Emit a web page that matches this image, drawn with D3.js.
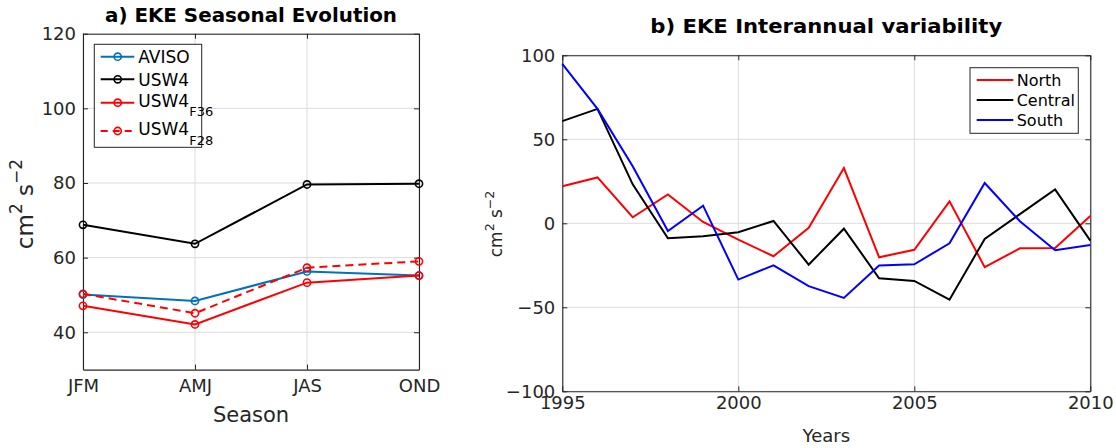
<!DOCTYPE html>
<html>
<head>
<meta charset="utf-8">
<script src="https://cdn.jsdelivr.net/npm/d3@7"></script>
<style>
  body { margin: 0; background: #fff; }
  svg { display: block; font-family: "DejaVu Sans", sans-serif; }
</style>
</head>
<body>
<svg id="chart" width="1116" height="448"></svg>
<script>
// ---------- Data ----------
const seasons = ["JFM", "AMJ", "JAS", "OND"];
const aviso   = [50.1, 48.4, 56.3, 55.2];
const usw4    = [68.8, 63.7, 79.6, 79.8];
const usw4F36 = [47.1, 42.1, 53.3, 55.2];
const usw4F28 = [50.3, 45.1, 57.3, 59.0];
const seasonYTicks = [40, 60, 80, 100, 120];

const years   = [1995, 1996, 1997, 1998, 1999, 2000, 2001, 2002, 2003, 2004, 2005, 2006, 2007, 2008, 2009, 2010];
const north   = [22.0, 27.3, 3.6, 17.2, 0.8, -9.7, -19.6, -2.7, 32.9, -20.2, -15.8, 13.1, -26.1, -14.9, -14.7, 4.4];
const central = [60.8, 68.1, 23.2, -8.9, -7.7, -5.3, 1.4, -24.6, -3.2, -32.7, -34.3, -45.5, -9.3, 5.5, 20.2, -10.3];
const south   = [94.9, 68.1, 33.9, -4.6, 10.5, -33.5, -25.0, -37.4, -44.4, -25.1, -24.4, -11.9, 24.0, 1.2, -16.0, -12.9];
const yearTicks = [1995, 2000, 2005, 2010];
const anomTicks = [-100, -50, 0, 50, 100];

const svg = d3.select("#chart");
const AX = "#262626", GRID = "#dcdcdc", FONT = "DejaVu Sans";

function panelFrame(g, x, y, xt, yt, xFmt, opts) {
  const [x0, x1] = x.range(), [y0, y1] = y.range();
  g.append("g").selectAll("line").data(xt).join("line")
    .attr("x1", d => x(d)).attr("x2", d => x(d)).attr("y1", y0).attr("y2", y1)
    .attr("stroke", GRID).attr("stroke-width", 1);
  g.append("g").selectAll("line").data(yt).join("line")
    .attr("x1", x0).attr("x2", x1).attr("y1", d => y(d)).attr("y2", d => y(d))
    .attr("stroke", GRID).attr("stroke-width", 1);
  const bottom = g.append("g").attr("transform", `translate(0,${y0})`)
    .call(d3.axisBottom(x).tickValues(xt).tickFormat(xFmt).tickSizeInner(-5).tickSizeOuter(0).tickPadding(opts.xPad));
  const top = g.append("g").attr("transform", `translate(0,${y1})`)
    .call(d3.axisTop(x).tickValues(xt).tickFormat("").tickSizeInner(-5).tickSizeOuter(0));
  const left = g.append("g").attr("transform", `translate(${x0},0)`)
    .call(d3.axisLeft(y).tickValues(yt).tickSizeInner(-5).tickSizeOuter(0).tickPadding(7));
  const right = g.append("g").attr("transform", `translate(${x1},0)`)
    .call(d3.axisRight(y).tickValues(yt).tickFormat("").tickSizeInner(-5).tickSizeOuter(0));
  [bottom, top, left, right].forEach(a => {
    a.select(".domain").attr("stroke", AX).attr("stroke-width", 1.1);
    a.selectAll(".tick line").attr("stroke", AX).attr("stroke-width", 1);
    a.selectAll("text").attr("fill", AX).attr("font-family", FONT).attr("font-size", opts.tickSize);
  });
}

// ---------- Panel a ----------
const xa = d3.scaleLinear().domain([0, 3]).range([83, 419]);
const ya = d3.scaleLinear().domain([30, 120]).range([369.6, 33.7]);
const ga = svg.append("g");
panelFrame(ga, xa, ya, [0, 1, 2, 3], seasonYTicks, i => seasons[i], { xPad: 10, tickSize: 18 });

const seriesA = [
  { name: "AVISO", sub: "", vals: aviso, color: "#0072BD", dash: null },
  { name: "USW4", sub: "", vals: usw4, color: "#000000", dash: null },
  { name: "USW4", sub: "F36", vals: usw4F36, color: "#FF0000", dash: null },
  { name: "USW4", sub: "F28", vals: usw4F28, color: "#FF0000", dash: "8,5" }
];
const lineA = d3.line().x((d, i) => xa(i)).y(d => ya(d));
seriesA.forEach(s => {
  ga.append("path").datum(s.vals).attr("d", lineA).attr("fill", "none")
    .attr("stroke", s.color).attr("stroke-width", 2).attr("stroke-dasharray", s.dash);
  ga.append("g").selectAll("circle").data(s.vals).join("circle")
    .attr("cx", (d, i) => xa(i)).attr("cy", d => ya(d)).attr("r", 3.6)
    .attr("fill", "none").attr("stroke", s.color).attr("stroke-width", 1.6);
});

const lga = ga.append("g");
lga.append("rect").attr("x", 94.3).attr("y", 44.3).attr("width", 107.4).attr("height", 103)
  .attr("fill", "#fff").attr("stroke", AX).attr("stroke-width", 1);
const legRowsA = [56.7, 79.3, 102.7, 131];
seriesA.forEach((s, k) => {
  const yy = legRowsA[k];
  lga.append("line").attr("x1", 100.7).attr("x2", 134.3).attr("y1", yy).attr("y2", yy)
    .attr("stroke", s.color).attr("stroke-width", 2).attr("stroke-dasharray", s.dash ? "7,5" : null);
  lga.append("circle").attr("cx", 117.7).attr("cy", yy).attr("r", 3.6)
    .attr("fill", "none").attr("stroke", s.color).attr("stroke-width", 1.6);
  const t = lga.append("text").attr("x", 138.3).attr("y", yy + (s.sub ? 4 : 6.6))
    .attr("font-size", 17).attr("fill", "#000").attr("font-family", FONT);
  t.append("tspan").text(s.name);
  if (s.sub) t.append("tspan").attr("dy", 9.5).attr("font-size", 13).text(s.sub);
});

ga.append("text").attr("x", 251).attr("y", 22).attr("text-anchor", "middle")
  .attr("font-weight", "bold").attr("font-size", 20).attr("textLength", 292)
  .attr("lengthAdjust", "spacingAndGlyphs").attr("fill", "#000").text("a) EKE Seasonal Evolution");
ga.append("text").attr("x", 251).attr("y", 421.5).attr("text-anchor", "middle")
  .attr("font-size", 21).attr("fill", AX).text("Season");
const yla = ga.append("text").attr("transform", "translate(33,204) rotate(-90)")
  .attr("text-anchor", "middle").attr("font-size", 23).attr("fill", AX);
yla.append("tspan").text("cm");
yla.append("tspan").attr("dy", -11).attr("font-size", 17).text("2");
yla.append("tspan").attr("dy", 11).text(" s");
yla.append("tspan").attr("dy", -11).attr("font-size", 17).text("−2");

// ---------- Panel b ----------
const xb = d3.scaleLinear().domain([1995, 2010]).range([562.3, 1090.3]);
const yb = d3.scaleLinear().domain([-100, 100]).range([391.3, 55.3]);
const gb = svg.append("g");
panelFrame(gb, xb, yb, yearTicks, anomTicks, d3.format("d"), { xPad: 5, tickSize: 18 });

const seriesB = [
  { name: "North", vals: north, color: "#FF0000" },
  { name: "Central", vals: central, color: "#000000" },
  { name: "South", vals: south, color: "#0000FF" }
];
const lineB = d3.line().x((d, i) => xb(years[i])).y(d => yb(d));
seriesB.forEach(s => {
  gb.append("path").datum(s.vals).attr("d", lineB).attr("fill", "none")
    .attr("stroke", s.color).attr("stroke-width", 2);
});

const lgb = gb.append("g");
lgb.append("rect").attr("x", 970).attr("y", 67.7).attr("width", 108.3).attr("height", 65.6)
  .attr("fill", "#fff").attr("stroke", AX).attr("stroke-width", 1);
const legRowsB = [80, 100, 120];
seriesB.forEach((s, k) => {
  const yy = legRowsB[k];
  lgb.append("line").attr("x1", 976.7).attr("x2", 1013.3).attr("y1", yy).attr("y2", yy)
    .attr("stroke", s.color).attr("stroke-width", 2);
  lgb.append("text").attr("x", 1016.7).attr("y", yy + 6).attr("font-size", 16)
    .attr("fill", "#000").attr("font-family", FONT).text(s.name);
});

gb.append("text").attr("x", 826.3).attr("y", 33).attr("text-anchor", "middle")
  .attr("font-weight", "bold").attr("font-size", 20).attr("textLength", 352)
  .attr("lengthAdjust", "spacingAndGlyphs").attr("fill", "#000").text("b) EKE Interannual variability");
gb.append("text").attr("x", 826.3).attr("y", 442).attr("text-anchor", "middle")
  .attr("font-size", 18).attr("fill", AX).text("Years");
const ylb = gb.append("text").attr("transform", "translate(502,224) rotate(-90)")
  .attr("text-anchor", "middle").attr("font-size", 17).attr("fill", AX);
ylb.append("tspan").text("cm");
ylb.append("tspan").attr("dy", -8).attr("font-size", 12.5).text("2");
ylb.append("tspan").attr("dy", 8).text(" s");
ylb.append("tspan").attr("dy", -8).attr("font-size", 12.5).text("−2");
</script>
</body>
</html>
